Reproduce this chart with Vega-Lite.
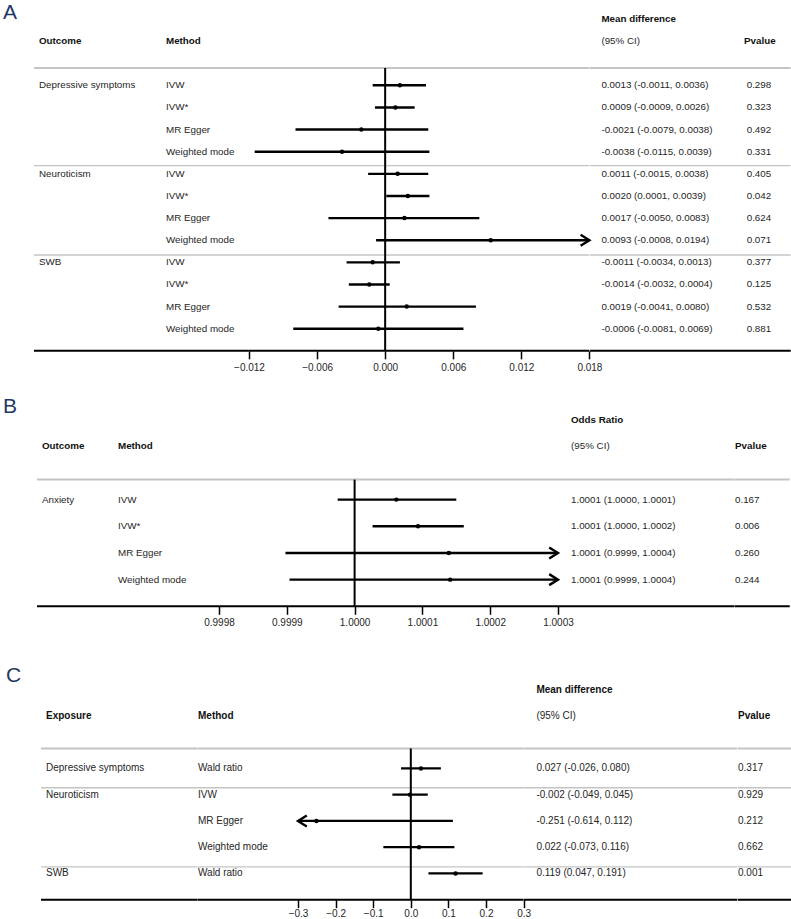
{
  "$schema": "https://vega.github.io/schema/vega-lite/v6.json",
  "padding": 0,
  "background": "white",
  "config": {
    "view": {"stroke": null},
    "font": "Liberation Sans",
    "text": {"font": "Liberation Sans", "fontSize": 9.8, "color": "#262626", "align": "left", "baseline": "middle"},
    "axisX": {"domain": false, "grid": false, "ticks": true, "tickSize": 8, "tickWidth": 1.5, "tickColor": "#000000", "labelFont": "Liberation Sans", "labelFontSize": 10, "labelColor": "#262626", "labelPadding": 3.5, "labelFlush": false, "labelOverlap": false}
  },
  "datasets": {
    "A": [
      {"row": 1, "outcome": "Depressive symptoms", "method": "IVW", "est": 0.0013, "lo": -0.0011, "hi": 0.0036, "ci": "0.0013 (-0.0011, 0.0036)", "p": "0.298"},
      {"row": 2, "outcome": "", "method": "IVW*", "est": 0.0009, "lo": -0.0009, "hi": 0.0026, "ci": "0.0009 (-0.0009, 0.0026)", "p": "0.323"},
      {"row": 3, "outcome": "", "method": "MR Egger", "est": -0.0021, "lo": -0.0079, "hi": 0.0038, "ci": "-0.0021 (-0.0079, 0.0038)", "p": "0.492"},
      {"row": 4, "outcome": "", "method": "Weighted mode", "est": -0.0038, "lo": -0.0115, "hi": 0.0039, "ci": "-0.0038 (-0.0115, 0.0039)", "p": "0.331"},
      {"row": 5, "outcome": "Neuroticism", "method": "IVW", "est": 0.0011, "lo": -0.0015, "hi": 0.0038, "ci": "0.0011 (-0.0015, 0.0038)", "p": "0.405"},
      {"row": 6, "outcome": "", "method": "IVW*", "est": 0.0020, "lo": 0.0001, "hi": 0.0039, "ci": "0.0020 (0.0001, 0.0039)", "p": "0.042"},
      {"row": 7, "outcome": "", "method": "MR Egger", "est": 0.0017, "lo": -0.0050, "hi": 0.0083, "ci": "0.0017 (-0.0050, 0.0083)", "p": "0.624"},
      {"row": 8, "outcome": "", "method": "Weighted mode", "est": 0.0093, "lo": -0.0008, "hi": 0.0194, "ci": "0.0093 (-0.0008, 0.0194)", "p": "0.071"},
      {"row": 9, "outcome": "SWB", "method": "IVW", "est": -0.0011, "lo": -0.0034, "hi": 0.0013, "ci": "-0.0011 (-0.0034, 0.0013)", "p": "0.377"},
      {"row": 10, "outcome": "", "method": "IVW*", "est": -0.0014, "lo": -0.0032, "hi": 0.0004, "ci": "-0.0014 (-0.0032, 0.0004)", "p": "0.125"},
      {"row": 11, "outcome": "", "method": "MR Egger", "est": 0.0019, "lo": -0.0041, "hi": 0.0080, "ci": "0.0019 (-0.0041, 0.0080)", "p": "0.532"},
      {"row": 12, "outcome": "", "method": "Weighted mode", "est": -0.0006, "lo": -0.0081, "hi": 0.0069, "ci": "-0.0006 (-0.0081, 0.0069)", "p": "0.881"}
    ],
    "B": [
      {"row": 1, "outcome": "Anxiety", "method": "IVW", "est": 1.0000615, "lo": 0.999975, "hi": 1.00015, "ci": "1.0001 (1.0000, 1.0001)", "p": "0.167"},
      {"row": 2, "outcome": "", "method": "IVW*", "est": 1.0000935, "lo": 1.0000265, "hi": 1.000161, "ci": "1.0001 (1.0000, 1.0002)", "p": "0.006"},
      {"row": 3, "outcome": "", "method": "MR Egger", "est": 1.000139, "lo": 0.999898, "hi": 1.0004, "ci": "1.0001 (0.9999, 1.0004)", "p": "0.260"},
      {"row": 4, "outcome": "", "method": "Weighted mode", "est": 1.000141, "lo": 0.999904, "hi": 1.0004, "ci": "1.0001 (0.9999, 1.0004)", "p": "0.244"}
    ],
    "C": [
      {"row": 1, "outcome": "Depressive symptoms", "method": "Wald ratio", "est": 0.027, "lo": -0.026, "hi": 0.080, "ci": "0.027 (-0.026, 0.080)", "p": "0.317"},
      {"row": 2, "outcome": "Neuroticism", "method": "IVW", "est": -0.002, "lo": -0.049, "hi": 0.045, "ci": "-0.002 (-0.049, 0.045)", "p": "0.929"},
      {"row": 3, "outcome": "", "method": "MR Egger", "est": -0.251, "lo": -0.614, "hi": 0.112, "ci": "-0.251 (-0.614, 0.112)", "p": "0.212"},
      {"row": 4, "outcome": "", "method": "Weighted mode", "est": 0.022, "lo": -0.073, "hi": 0.116, "ci": "0.022 (-0.073, 0.116)", "p": "0.662"},
      {"row": 5, "outcome": "SWB", "method": "Wald ratio", "est": 0.119, "lo": 0.047, "hi": 0.191, "ci": "0.119 (0.047, 0.191)", "p": "0.001"}
    ],
    "hA": [
      {"col": "letter", "row": -2, "label": "A"},
      {"col": "outcome", "row": -1, "label": "Outcome"},
      {"col": "method", "row": -1, "label": "Method"},
      {"col": "ci", "row": -2, "label": "Mean difference"},
      {"col": "ci", "row": -1, "label": "(95% CI)"},
      {"col": "p", "row": -1, "label": "Pvalue"}
    ],
    "hB": [
      {"col": "letter", "row": -2, "label": "B"},
      {"col": "outcome", "row": -1, "label": "Outcome"},
      {"col": "method", "row": -1, "label": "Method"},
      {"col": "ci", "row": -2, "label": "Odds Ratio"},
      {"col": "ci", "row": -1, "label": "(95% CI)"},
      {"col": "p", "row": -1, "label": "Pvalue"}
    ],
    "hC": [
      {"col": "letter", "row": -2, "label": "C"},
      {"col": "outcome", "row": -1, "label": "Exposure"},
      {"col": "method", "row": -1, "label": "Method"},
      {"col": "ci", "row": -2, "label": "Mean difference"},
      {"col": "ci", "row": -1, "label": "(95% CI)"},
      {"col": "p", "row": -1, "label": "Pvalue"}
    ],
    "lA": [
      {"kind": "header", "row": 0.22},
      {"kind": "sep", "row": 4.63},
      {"kind": "sep", "row": 8.67},
      {"kind": "axis", "row": 13},
      {"kind": "ref", "x": 0, "row": 0.22, "row2": 13}
    ],
    "lB": [
      {"kind": "header", "row": 0.25},
      {"kind": "axis", "row": 5},
      {"kind": "ref", "x": 1, "row": 0.25, "row2": 5}
    ],
    "lC": [
      {"kind": "header", "row": 0.24},
      {"kind": "sep", "row": 1.74},
      {"kind": "sep", "row": 4.75},
      {"kind": "axis", "row": 6},
      {"kind": "ref", "x": 0, "row": 0.24, "row2": 6}
    ]
  },
  "vconcat": [
    {
      "hconcat": [
        {"width": 34, "height": 350.87,
          "encoding": {"y": {"field": "row", "type": "quantitative", "scale": {"domain": [-2.855, 13], "reverse": true, "nice": false, "zero": false}, "axis": null}},
          "layer": [
            {"data": {"name": "hA"}, "transform": [{"filter": "datum.col == 'letter'"}], "mark": {"type": "text", "fontSize": 21, "color": "#1f3864", "dx": 3, "dy": -6.4},
              "encoding": {"x": {"datum": "c", "type": "nominal", "scale": {"type": "point", "padding": 0, "align": 0}, "axis": null}, "text": {"field": "label"}}}
          ]},
        {"width": 132, "height": 350.87,
          "encoding": {"y": {"field": "row", "type": "quantitative", "scale": {"domain": [-2.855, 13], "reverse": true, "nice": false, "zero": false}, "axis": null}},
          "layer": [
            {"data": {"name": "lA"}, "transform": [{"filter": "datum.kind != 'ref'"}], "mark": {"type": "rule"},
              "encoding": {"color": {"condition": {"test": "datum.kind == 'axis'", "value": "#000000"}, "value": "#c4c4c4"}, "strokeWidth": {"condition": {"test": "datum.kind == 'sep'", "value": 1.4}, "value": 2}}},
            {"data": {"name": "hA"}, "transform": [{"filter": "datum.col == 'outcome'"}], "mark": {"type": "text", "dx": 5, "fontWeight": "bold", "color": "#111111"},
              "encoding": {"x": {"datum": "c", "type": "nominal", "scale": {"type": "point", "padding": 0, "align": 0}, "axis": null}, "text": {"field": "label"}}},
            {"data": {"name": "A"}, "mark": {"type": "text", "dx": 5},
              "encoding": {"x": {"datum": "c", "type": "nominal", "scale": {"type": "point", "padding": 0, "align": 0}, "axis": null}, "text": {"field": "outcome"}}}
          ]},
        {"width": 82.9, "height": 350.87,
          "encoding": {"y": {"field": "row", "type": "quantitative", "scale": {"domain": [-2.855, 13], "reverse": true, "nice": false, "zero": false}, "axis": null}},
          "layer": [
            {"data": {"name": "lA"}, "transform": [{"filter": "datum.kind != 'ref'"}], "mark": {"type": "rule"},
              "encoding": {"color": {"condition": {"test": "datum.kind == 'axis'", "value": "#000000"}, "value": "#c4c4c4"}, "strokeWidth": {"condition": {"test": "datum.kind == 'sep'", "value": 1.4}, "value": 2}}},
            {"data": {"name": "hA"}, "transform": [{"filter": "datum.col == 'method'"}], "mark": {"type": "text", "fontWeight": "bold", "color": "#111111"},
              "encoding": {"x": {"datum": "c", "type": "nominal", "scale": {"type": "point", "padding": 0, "align": 0}, "axis": null}, "text": {"field": "label"}}},
            {"data": {"name": "A"}, "mark": {"type": "text"},
              "encoding": {"x": {"datum": "c", "type": "nominal", "scale": {"type": "point", "padding": 0, "align": 0}, "axis": null}, "text": {"field": "method"}}}
          ]},
        {"width": 340.4, "height": 350.87,
          "encoding": {"y": {"field": "row", "type": "quantitative", "scale": {"domain": [-2.855, 13], "reverse": true, "nice": false, "zero": false}, "axis": null}},
          "layer": [
            {"data": {"name": "lA"}, "transform": [{"filter": "datum.kind != 'ref'"}], "mark": {"type": "rule"},
              "encoding": {"color": {"condition": {"test": "datum.kind == 'axis'", "value": "#000000"}, "value": "#c4c4c4"}, "strokeWidth": {"condition": {"test": "datum.kind == 'sep'", "value": 1.4}, "value": 2}}},
            {"data": {"name": "lA"}, "transform": [{"filter": "datum.kind == 'ref'"}], "mark": {"type": "rule", "color": "#000000", "strokeWidth": 2},
              "encoding": {"x": {"field": "x", "type": "quantitative", "scale": {"domain": [-0.012, 0.018], "nice": false, "zero": false, "clamp": true}, "axis": {"values": [-0.012, -0.006, 0, 0.006, 0.012, 0.018], "format": ".3f", "title": null}}, "y2": {"field": "row2"}}},
            {"data": {"name": "A"}, "mark": {"type": "rule", "color": "#000000", "strokeWidth": 2.4},
              "encoding": {"x": {"field": "lo", "type": "quantitative", "scale": {"domain": [-0.012, 0.018], "nice": false, "zero": false, "clamp": true}, "axis": {"values": [-0.012, -0.006, 0, 0.006, 0.012, 0.018], "format": ".3f", "title": null}}, "x2": {"field": "hi"}}},
            {"data": {"name": "A"}, "mark": {"type": "point", "shape": "circle", "filled": true, "size": 20, "color": "#000000", "opacity": 1},
              "encoding": {"x": {"field": "est", "type": "quantitative", "scale": {"domain": [-0.012, 0.018], "nice": false, "zero": false, "clamp": true}, "axis": {"values": [-0.012, -0.006, 0, 0.006, 0.012, 0.018], "format": ".3f", "title": null}}}},
            {"data": {"name": "A"}, "transform": [{"filter": "datum.hi > 0.018"}], "mark": {"type": "point", "shape": "M-1.6,-1L0,0L-1.6,1", "filled": false, "size": 121, "strokeWidth": 2.4, "color": "#000000", "opacity": 1},
              "encoding": {"x": {"field": "hi", "type": "quantitative", "scale": {"domain": [-0.012, 0.018], "nice": false, "zero": false, "clamp": true}, "axis": {"values": [-0.012, -0.006, 0, 0.006, 0.012, 0.018], "format": ".3f", "title": null}}}}
          ]},
        {"width": 154, "height": 350.87,
          "encoding": {"y": {"field": "row", "type": "quantitative", "scale": {"domain": [-2.855, 13], "reverse": true, "nice": false, "zero": false}, "axis": null}},
          "layer": [
            {"data": {"name": "lA"}, "transform": [{"filter": "datum.kind != 'ref'"}], "mark": {"type": "rule"},
              "encoding": {"color": {"condition": {"test": "datum.kind == 'axis'", "value": "#000000"}, "value": "#c4c4c4"}, "strokeWidth": {"condition": {"test": "datum.kind == 'sep'", "value": 1.4}, "value": 2}}},
            {"data": {"name": "hA"}, "transform": [{"filter": "datum.col == 'ci' && datum.row == -2"}], "mark": {"type": "text", "dx": 11.4, "fontWeight": "bold", "color": "#111111"},
              "encoding": {"x": {"datum": "c", "type": "nominal", "scale": {"type": "point", "padding": 0, "align": 0}, "axis": null}, "text": {"field": "label"}}},
            {"data": {"name": "hA"}, "transform": [{"filter": "datum.col == 'ci' && datum.row == -1"}], "mark": {"type": "text", "dx": 11.4},
              "encoding": {"x": {"datum": "c", "type": "nominal", "scale": {"type": "point", "padding": 0, "align": 0}, "axis": null}, "text": {"field": "label"}}},
            {"data": {"name": "A"}, "mark": {"type": "text", "dx": 11.4},
              "encoding": {"x": {"datum": "c", "type": "nominal", "scale": {"type": "point", "padding": 0, "align": 0}, "axis": null}, "text": {"field": "ci"}}}
          ]},
        {"width": 46.7, "height": 350.87,
          "encoding": {"y": {"field": "row", "type": "quantitative", "scale": {"domain": [-2.855, 13], "reverse": true, "nice": false, "zero": false}, "axis": null}},
          "layer": [
            {"data": {"name": "lA"}, "transform": [{"filter": "datum.kind != 'ref'"}], "mark": {"type": "rule"},
              "encoding": {"color": {"condition": {"test": "datum.kind == 'axis'", "value": "#000000"}, "value": "#c4c4c4"}, "strokeWidth": {"condition": {"test": "datum.kind == 'sep'", "value": 1.4}, "value": 2}}},
            {"data": {"name": "hA"}, "transform": [{"filter": "datum.col == 'p'"}], "mark": {"type": "text", "fontWeight": "bold", "color": "#111111"},
              "encoding": {"x": {"datum": "c", "type": "nominal", "scale": {"type": "point", "padding": 0, "align": 0}, "axis": null}, "text": {"field": "label"}}},
            {"data": {"name": "A"}, "mark": {"type": "text", "dx": 2.7},
              "encoding": {"x": {"datum": "c", "type": "nominal", "scale": {"type": "point", "padding": 0, "align": 0}, "axis": null}, "text": {"field": "p"}}}
          ]}
      ],
      "spacing": 0,
      "bounds": "flush"
    },
    {
      "hconcat": [
        {"width": 36.7, "height": 216.0,
          "encoding": {"y": {"field": "row", "type": "quantitative", "scale": {"domain": [-3.099, 5], "reverse": true, "nice": false, "zero": false}, "axis": null}},
          "layer": [
            {"data": {"name": "hB"}, "transform": [{"filter": "datum.col == 'letter'"}], "mark": {"type": "text", "fontSize": 21, "color": "#1f3864", "dx": 3, "dy": -13},
              "encoding": {"x": {"datum": "c", "type": "nominal", "scale": {"type": "point", "padding": 0, "align": 0}, "axis": null}, "text": {"field": "label"}}}
          ]},
        {"width": 81, "height": 216.0,
          "encoding": {"y": {"field": "row", "type": "quantitative", "scale": {"domain": [-3.099, 5], "reverse": true, "nice": false, "zero": false}, "axis": null}},
          "layer": [
            {"data": {"name": "lB"}, "transform": [{"filter": "datum.kind != 'ref'"}], "mark": {"type": "rule"},
              "encoding": {"color": {"condition": {"test": "datum.kind == 'axis'", "value": "#000000"}, "value": "#c4c4c4"}, "strokeWidth": {"condition": {"test": "datum.kind == 'sep'", "value": 1.4}, "value": 2}}},
            {"data": {"name": "hB"}, "transform": [{"filter": "datum.col == 'outcome'"}], "mark": {"type": "text", "dx": 5, "fontWeight": "bold", "color": "#111111"},
              "encoding": {"x": {"datum": "c", "type": "nominal", "scale": {"type": "point", "padding": 0, "align": 0}, "axis": null}, "text": {"field": "label"}}},
            {"data": {"name": "B"}, "mark": {"type": "text", "dx": 5},
              "encoding": {"x": {"datum": "c", "type": "nominal", "scale": {"type": "point", "padding": 0, "align": 0}, "axis": null}, "text": {"field": "outcome"}}}
          ]},
        {"width": 101, "height": 216.0,
          "encoding": {"y": {"field": "row", "type": "quantitative", "scale": {"domain": [-3.099, 5], "reverse": true, "nice": false, "zero": false}, "axis": null}},
          "layer": [
            {"data": {"name": "lB"}, "transform": [{"filter": "datum.kind != 'ref'"}], "mark": {"type": "rule"},
              "encoding": {"color": {"condition": {"test": "datum.kind == 'axis'", "value": "#000000"}, "value": "#c4c4c4"}, "strokeWidth": {"condition": {"test": "datum.kind == 'sep'", "value": 1.4}, "value": 2}}},
            {"data": {"name": "hB"}, "transform": [{"filter": "datum.col == 'method'"}], "mark": {"type": "text", "fontWeight": "bold", "color": "#111111"},
              "encoding": {"x": {"datum": "c", "type": "nominal", "scale": {"type": "point", "padding": 0, "align": 0}, "axis": null}, "text": {"field": "label"}}},
            {"data": {"name": "B"}, "mark": {"type": "text"},
              "encoding": {"x": {"datum": "c", "type": "nominal", "scale": {"type": "point", "padding": 0, "align": 0}, "axis": null}, "text": {"field": "method"}}}
          ]},
        {"width": 339, "height": 216.0,
          "encoding": {"y": {"field": "row", "type": "quantitative", "scale": {"domain": [-3.099, 5], "reverse": true, "nice": false, "zero": false}, "axis": null}},
          "layer": [
            {"data": {"name": "lB"}, "transform": [{"filter": "datum.kind != 'ref'"}], "mark": {"type": "rule"},
              "encoding": {"color": {"condition": {"test": "datum.kind == 'axis'", "value": "#000000"}, "value": "#c4c4c4"}, "strokeWidth": {"condition": {"test": "datum.kind == 'sep'", "value": 1.4}, "value": 2}}},
            {"data": {"name": "lB"}, "transform": [{"filter": "datum.kind == 'ref'"}], "mark": {"type": "rule", "color": "#000000", "strokeWidth": 2},
              "encoding": {"x": {"field": "x", "type": "quantitative", "scale": {"domain": [0.9998, 1.0003], "nice": false, "zero": false, "clamp": true}, "axis": {"values": [0.9998, 0.9999, 1, 1.0001, 1.0002, 1.0003], "format": ".4f", "title": null}}, "y2": {"field": "row2"}}},
            {"data": {"name": "B"}, "mark": {"type": "rule", "color": "#000000", "strokeWidth": 2.4},
              "encoding": {"x": {"field": "lo", "type": "quantitative", "scale": {"domain": [0.9998, 1.0003], "nice": false, "zero": false, "clamp": true}, "axis": {"values": [0.9998, 0.9999, 1, 1.0001, 1.0002, 1.0003], "format": ".4f", "title": null}}, "x2": {"field": "hi"}}},
            {"data": {"name": "B"}, "mark": {"type": "point", "shape": "circle", "filled": true, "size": 20, "color": "#000000", "opacity": 1},
              "encoding": {"x": {"field": "est", "type": "quantitative", "scale": {"domain": [0.9998, 1.0003], "nice": false, "zero": false, "clamp": true}, "axis": {"values": [0.9998, 0.9999, 1, 1.0001, 1.0002, 1.0003], "format": ".4f", "title": null}}}},
            {"data": {"name": "B"}, "transform": [{"filter": "datum.hi > 1.0003"}], "mark": {"type": "point", "shape": "M-1.6,-1L0,0L-1.6,1", "filled": false, "size": 121, "strokeWidth": 2.4, "color": "#000000", "opacity": 1},
              "encoding": {"x": {"field": "hi", "type": "quantitative", "scale": {"domain": [0.9998, 1.0003], "nice": false, "zero": false, "clamp": true}, "axis": {"values": [0.9998, 0.9999, 1, 1.0001, 1.0002, 1.0003], "format": ".4f", "title": null}}}}
          ]},
        {"width": 176.6, "height": 216.0,
          "encoding": {"y": {"field": "row", "type": "quantitative", "scale": {"domain": [-3.099, 5], "reverse": true, "nice": false, "zero": false}, "axis": null}},
          "layer": [
            {"data": {"name": "lB"}, "transform": [{"filter": "datum.kind != 'ref'"}], "mark": {"type": "rule"},
              "encoding": {"color": {"condition": {"test": "datum.kind == 'axis'", "value": "#000000"}, "value": "#c4c4c4"}, "strokeWidth": {"condition": {"test": "datum.kind == 'sep'", "value": 1.4}, "value": 2}}},
            {"data": {"name": "hB"}, "transform": [{"filter": "datum.col == 'ci' && datum.row == -2"}], "mark": {"type": "text", "dx": 13, "fontWeight": "bold", "color": "#111111"},
              "encoding": {"x": {"datum": "c", "type": "nominal", "scale": {"type": "point", "padding": 0, "align": 0}, "axis": null}, "text": {"field": "label"}}},
            {"data": {"name": "hB"}, "transform": [{"filter": "datum.col == 'ci' && datum.row == -1"}], "mark": {"type": "text", "dx": 13},
              "encoding": {"x": {"datum": "c", "type": "nominal", "scale": {"type": "point", "padding": 0, "align": 0}, "axis": null}, "text": {"field": "label"}}},
            {"data": {"name": "B"}, "mark": {"type": "text", "dx": 13},
              "encoding": {"x": {"datum": "c", "type": "nominal", "scale": {"type": "point", "padding": 0, "align": 0}, "axis": null}, "text": {"field": "ci"}}}
          ]},
        {"width": 54.7, "height": 216.0,
          "encoding": {"y": {"field": "row", "type": "quantitative", "scale": {"domain": [-3.099, 5], "reverse": true, "nice": false, "zero": false}, "axis": null}},
          "layer": [
            {"data": {"name": "lB"}, "transform": [{"filter": "datum.kind != 'ref'"}], "mark": {"type": "rule"},
              "encoding": {"color": {"condition": {"test": "datum.kind == 'axis'", "value": "#000000"}, "value": "#c4c4c4"}, "strokeWidth": {"condition": {"test": "datum.kind == 'sep'", "value": 1.4}, "value": 2}}},
            {"data": {"name": "hB"}, "transform": [{"filter": "datum.col == 'p'"}], "mark": {"type": "text", "fontWeight": "bold", "color": "#111111"},
              "encoding": {"x": {"datum": "c", "type": "nominal", "scale": {"type": "point", "padding": 0, "align": 0}, "axis": null}, "text": {"field": "label"}}},
            {"data": {"name": "B"}, "mark": {"type": "text"},
              "encoding": {"x": {"datum": "c", "type": "nominal", "scale": {"type": "point", "padding": 0, "align": 0}, "axis": null}, "text": {"field": "p"}}}
          ]}
      ],
      "spacing": 0,
      "bounds": "flush"
    },
    {
      "hconcat": [
        {"width": 41, "height": 254.05,
          "encoding": {"y": {"field": "row", "type": "quantitative", "scale": {"domain": [-3.678, 6], "reverse": true, "nice": false, "zero": false}, "axis": null}},
          "layer": [
            {"data": {"name": "hC"}, "transform": [{"filter": "datum.col == 'letter'"}], "mark": {"type": "text", "fontSize": 21, "color": "#1f3864", "dx": 6, "dy": -13.3},
              "encoding": {"x": {"datum": "c", "type": "nominal", "scale": {"type": "point", "padding": 0, "align": 0}, "axis": null}, "text": {"field": "label"}}}
          ]},
        {"width": 156.7, "height": 254.05,
          "encoding": {"y": {"field": "row", "type": "quantitative", "scale": {"domain": [-3.678, 6], "reverse": true, "nice": false, "zero": false}, "axis": null}},
          "layer": [
            {"data": {"name": "lC"}, "transform": [{"filter": "datum.kind != 'ref'"}], "mark": {"type": "rule"},
              "encoding": {"color": {"condition": {"test": "datum.kind == 'axis'", "value": "#000000"}, "value": "#c4c4c4"}, "strokeWidth": {"condition": {"test": "datum.kind == 'sep'", "value": 1.4}, "value": 2}}},
            {"data": {"name": "hC"}, "transform": [{"filter": "datum.col == 'outcome'"}], "mark": {"type": "text", "dx": 5, "fontSize": 10, "fontWeight": "bold", "color": "#111111"},
              "encoding": {"x": {"datum": "c", "type": "nominal", "scale": {"type": "point", "padding": 0, "align": 0}, "axis": null}, "text": {"field": "label"}}},
            {"data": {"name": "C"}, "mark": {"type": "text", "dx": 5, "fontSize": 10},
              "encoding": {"x": {"datum": "c", "type": "nominal", "scale": {"type": "point", "padding": 0, "align": 0}, "axis": null}, "text": {"field": "outcome"}}}
          ]},
        {"width": 100, "height": 254.05,
          "encoding": {"y": {"field": "row", "type": "quantitative", "scale": {"domain": [-3.678, 6], "reverse": true, "nice": false, "zero": false}, "axis": null}},
          "layer": [
            {"data": {"name": "lC"}, "transform": [{"filter": "datum.kind != 'ref'"}], "mark": {"type": "rule"},
              "encoding": {"color": {"condition": {"test": "datum.kind == 'axis'", "value": "#000000"}, "value": "#c4c4c4"}, "strokeWidth": {"condition": {"test": "datum.kind == 'sep'", "value": 1.4}, "value": 2}}},
            {"data": {"name": "hC"}, "transform": [{"filter": "datum.col == 'method'"}], "mark": {"type": "text", "fontSize": 10, "fontWeight": "bold", "color": "#111111"},
              "encoding": {"x": {"datum": "c", "type": "nominal", "scale": {"type": "point", "padding": 0, "align": 0}, "axis": null}, "text": {"field": "label"}}},
            {"data": {"name": "C"}, "mark": {"type": "text", "fontSize": 10},
              "encoding": {"x": {"datum": "c", "type": "nominal", "scale": {"type": "point", "padding": 0, "align": 0}, "axis": null}, "text": {"field": "method"}}}
          ]},
        {"width": 225.6, "height": 254.05,
          "encoding": {"y": {"field": "row", "type": "quantitative", "scale": {"domain": [-3.678, 6], "reverse": true, "nice": false, "zero": false}, "axis": null}},
          "layer": [
            {"data": {"name": "lC"}, "transform": [{"filter": "datum.kind != 'ref'"}], "mark": {"type": "rule"},
              "encoding": {"color": {"condition": {"test": "datum.kind == 'axis'", "value": "#000000"}, "value": "#c4c4c4"}, "strokeWidth": {"condition": {"test": "datum.kind == 'sep'", "value": 1.4}, "value": 2}}},
            {"data": {"name": "lC"}, "transform": [{"filter": "datum.kind == 'ref'"}], "mark": {"type": "rule", "color": "#000000", "strokeWidth": 2},
              "encoding": {"x": {"field": "x", "type": "quantitative", "scale": {"domain": [-0.3, 0.3], "nice": false, "zero": false, "clamp": true}, "axis": {"values": [-0.3, -0.2, -0.1, 0, 0.1, 0.2, 0.3], "format": ".1f", "title": null, "labelPadding": 1}}, "y2": {"field": "row2"}}},
            {"data": {"name": "C"}, "mark": {"type": "rule", "color": "#000000", "strokeWidth": 2.4},
              "encoding": {"x": {"field": "lo", "type": "quantitative", "scale": {"domain": [-0.3, 0.3], "nice": false, "zero": false, "clamp": true}, "axis": {"values": [-0.3, -0.2, -0.1, 0, 0.1, 0.2, 0.3], "format": ".1f", "title": null, "labelPadding": 1}}, "x2": {"field": "hi"}}},
            {"data": {"name": "C"}, "mark": {"type": "point", "shape": "circle", "filled": true, "size": 20, "color": "#000000", "opacity": 1},
              "encoding": {"x": {"field": "est", "type": "quantitative", "scale": {"domain": [-0.3, 0.3], "nice": false, "zero": false, "clamp": true}, "axis": {"values": [-0.3, -0.2, -0.1, 0, 0.1, 0.2, 0.3], "format": ".1f", "title": null, "labelPadding": 1}}}},
            {"data": {"name": "C"}, "transform": [{"filter": "datum.lo < -0.3"}], "mark": {"type": "point", "shape": "M1.6,-1L0,0L1.6,1", "filled": false, "size": 121, "strokeWidth": 2.4, "color": "#000000", "opacity": 1},
              "encoding": {"x": {"field": "lo", "type": "quantitative", "scale": {"domain": [-0.3, 0.3], "nice": false, "zero": false, "clamp": true}, "axis": {"values": [-0.3, -0.2, -0.1, 0, 0.1, 0.2, 0.3], "format": ".1f", "title": null, "labelPadding": 1}}}}
          ]},
        {"width": 213.4, "height": 254.05,
          "encoding": {"y": {"field": "row", "type": "quantitative", "scale": {"domain": [-3.678, 6], "reverse": true, "nice": false, "zero": false}, "axis": null}},
          "layer": [
            {"data": {"name": "lC"}, "transform": [{"filter": "datum.kind != 'ref'"}], "mark": {"type": "rule"},
              "encoding": {"color": {"condition": {"test": "datum.kind == 'axis'", "value": "#000000"}, "value": "#c4c4c4"}, "strokeWidth": {"condition": {"test": "datum.kind == 'sep'", "value": 1.4}, "value": 2}}},
            {"data": {"name": "hC"}, "transform": [{"filter": "datum.col == 'ci' && datum.row == -2"}], "mark": {"type": "text", "dx": 12.4, "fontSize": 10, "fontWeight": "bold", "color": "#111111"},
              "encoding": {"x": {"datum": "c", "type": "nominal", "scale": {"type": "point", "padding": 0, "align": 0}, "axis": null}, "text": {"field": "label"}}},
            {"data": {"name": "hC"}, "transform": [{"filter": "datum.col == 'ci' && datum.row == -1"}], "mark": {"type": "text", "dx": 12.4, "fontSize": 10},
              "encoding": {"x": {"datum": "c", "type": "nominal", "scale": {"type": "point", "padding": 0, "align": 0}, "axis": null}, "text": {"field": "label"}}},
            {"data": {"name": "C"}, "mark": {"type": "text", "dx": 12.4, "fontSize": 10},
              "encoding": {"x": {"datum": "c", "type": "nominal", "scale": {"type": "point", "padding": 0, "align": 0}, "axis": null}, "text": {"field": "ci"}}}
          ]},
        {"width": 54.3, "height": 254.05,
          "encoding": {"y": {"field": "row", "type": "quantitative", "scale": {"domain": [-3.678, 6], "reverse": true, "nice": false, "zero": false}, "axis": null}},
          "layer": [
            {"data": {"name": "lC"}, "transform": [{"filter": "datum.kind != 'ref'"}], "mark": {"type": "rule"},
              "encoding": {"color": {"condition": {"test": "datum.kind == 'axis'", "value": "#000000"}, "value": "#c4c4c4"}, "strokeWidth": {"condition": {"test": "datum.kind == 'sep'", "value": 1.4}, "value": 2}}},
            {"data": {"name": "hC"}, "transform": [{"filter": "datum.col == 'p'"}], "mark": {"type": "text", "fontSize": 10, "fontWeight": "bold", "color": "#111111"},
              "encoding": {"x": {"datum": "c", "type": "nominal", "scale": {"type": "point", "padding": 0, "align": 0}, "axis": null}, "text": {"field": "label"}}},
            {"data": {"name": "C"}, "mark": {"type": "text", "fontSize": 10},
              "encoding": {"x": {"datum": "c", "type": "nominal", "scale": {"type": "point", "padding": 0, "align": 0}, "axis": null}, "text": {"field": "p"}}}
          ]}
      ],
      "spacing": 0,
      "bounds": "flush"
    }
  ],
  "spacing": 17.3,
  "bounds": "full"
}
